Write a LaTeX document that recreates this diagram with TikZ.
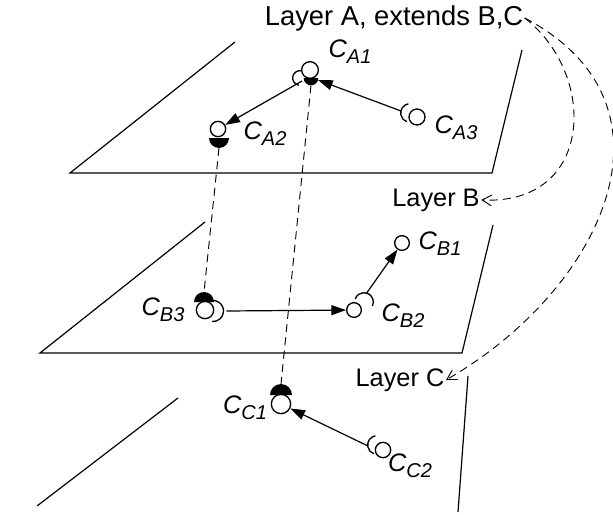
\documentclass[tikz,border=0pt]{standalone}
\usepackage{fontspec}
\setmainfont{Liberation Sans}
\usetikzlibrary{arrows.meta}
\newcommand{\cname}[1]{\textit{C}\raisebox{-0.45ex}{\fontsize{15}{15}\selectfont\textit{#1}}}
\newcommand{\halfdisc}[4]{\fill ([shift={(#2:#4)}]#1) arc[start angle=#2, end angle=#3, radius=#4] -- cycle;}
\newcommand{\socket}[4]{\draw[line width=1pt] ([shift={(#2:#4)}]#1) arc[start angle=#2, end angle=#3, radius=#4];}
\tikzset{
  layer/.style={line width=0.9pt},
  iface/.style={circle, draw, fill=white, line width=1pt, inner sep=0pt},
  lbl/.style={font=\fontsize{19}{22}\selectfont, inner sep=1pt},
  use/.style={line width=0.9pt, -{Triangle[length=11pt, width=7.5pt]}},
  ext/.style={line width=0.7pt, dashed, dash pattern=on 6pt off 4pt, -{Straight Barb[length=7pt, width=8pt]}},
  link/.style={line width=0.7pt, dashed, dash pattern=on 6pt off 4pt}
}
\begin{document}
\begin{tikzpicture}[x=0.75pt, y=-0.75pt]
    \useasboundingbox (0,0) rectangle (613,514);
    % layers
    \draw[layer] (235,42) -- (70,173) -- (492,173) -- (522,50);
    \draw[layer] (205,222) -- (40,353) -- (462,353) -- (493,225);
    \draw[layer] (178,398) -- (37,506);
    \draw[layer] (468,376) -- (458,512);
    \node[lbl, font=\fontsize{20.5}{24}\selectfont] (layA) at (394,18) {Layer A, extends B,C};
    \node[lbl] (layB) at (436,200) {Layer B};
    \node[lbl] (layC) at (400,380) {Layer C};
    % sockets
    \coordinate (sA1) at (300,78);
    \coordinate (hA1) at (311,78);
    \coordinate (hA2) at (219,138);
    \coordinate (sA3) at (410,113);
    \coordinate (hB3) at (204,302);
    \coordinate (sB3) at (213,311);
    \coordinate (sB2) at (364,302);
    \coordinate (hC1) at (281,395);
    \coordinate (sC2) at (377,445);
    \socket{sA1}{80}{260}{5.5pt}
    \socket{sA3}{100}{250}{7pt}
    \socket{sB3}{-95}{95}{7.9pt}
    \socket{sB2}{-25}{160}{7pt}
    \socket{sC2}{100}{250}{7pt}
    % components
    \node[iface, minimum size=12.5pt] (cA1) at (310,70) {};
    \node[iface, minimum size=11.5pt] (cA2) at (218,129) {};
    \node[iface, minimum size=12pt] (cA3) at (417,117) {};
    \node[iface, minimum size=13pt] (cB3) at (205,310) {};
    \node[iface, minimum size=11pt] (cB2) at (354,310) {};
    \node[iface, minimum size=11pt] (cB1) at (402,243) {};
    \node[iface, minimum size=14.5pt] (cC1) at (281,404) {};
    \node[iface, minimum size=11.5pt] (cC2) at (383,450) {};
    \halfdisc{hA1}{180}{360}{5.5pt}
    \halfdisc{hA2}{180}{360}{7.5pt}
    \halfdisc{hB3}{0}{180}{7.5pt}
    \halfdisc{hC1}{0}{180}{8.25pt}
    \node[lbl] (nA1) at (350,52) {\cname{A1}};
    \node[lbl] (nA2) at (265,134) {\cname{A2}};
    \node[lbl] (nA3) at (456,128) {\cname{A3}};
    \node[lbl] (nB1) at (440,244) {\cname{B1}};
    \node[lbl] (nB2) at (403,316) {\cname{B2}};
    \node[lbl] (nB3) at (163,310) {\cname{B3}};
    \node[lbl] (nC1) at (245,408) {\cname{C1}};
    \node[lbl] (nC2) at (410,466) {\cname{C2}};
    % dependencies
    \coordinate (tA1) at (318,80);
    \coordinate (fA1) at (302,81);
    \coordinate (fA3) at (401,111);
    \coordinate (fB2) at (366,294);
    \coordinate (fC2) at (368,446);
    \draw[use] (fA3) -- (tA1);
    \draw[use] (fA1) -- (cA2);
    \draw[use] ([xshift=10pt]sB3) -- (cB2);
    \draw[use] (fB2) -- (cB1);
    \draw[use] (fC2) -- (cC1);
    \draw[link] ([yshift=-7.5pt]hA2) -- ([yshift=7.5pt]hB3);
    \draw[link] ([yshift=-5.5pt]hA1) -- ([yshift=8.25pt]hC1);
    \draw[ext] (layA.east) .. controls (598,75) and (594,205) .. (layB.east);
    \draw[ext] (layA.east) .. controls (690,105) and (602,290) .. (layC.east);
\end{tikzpicture}
\end{document}
